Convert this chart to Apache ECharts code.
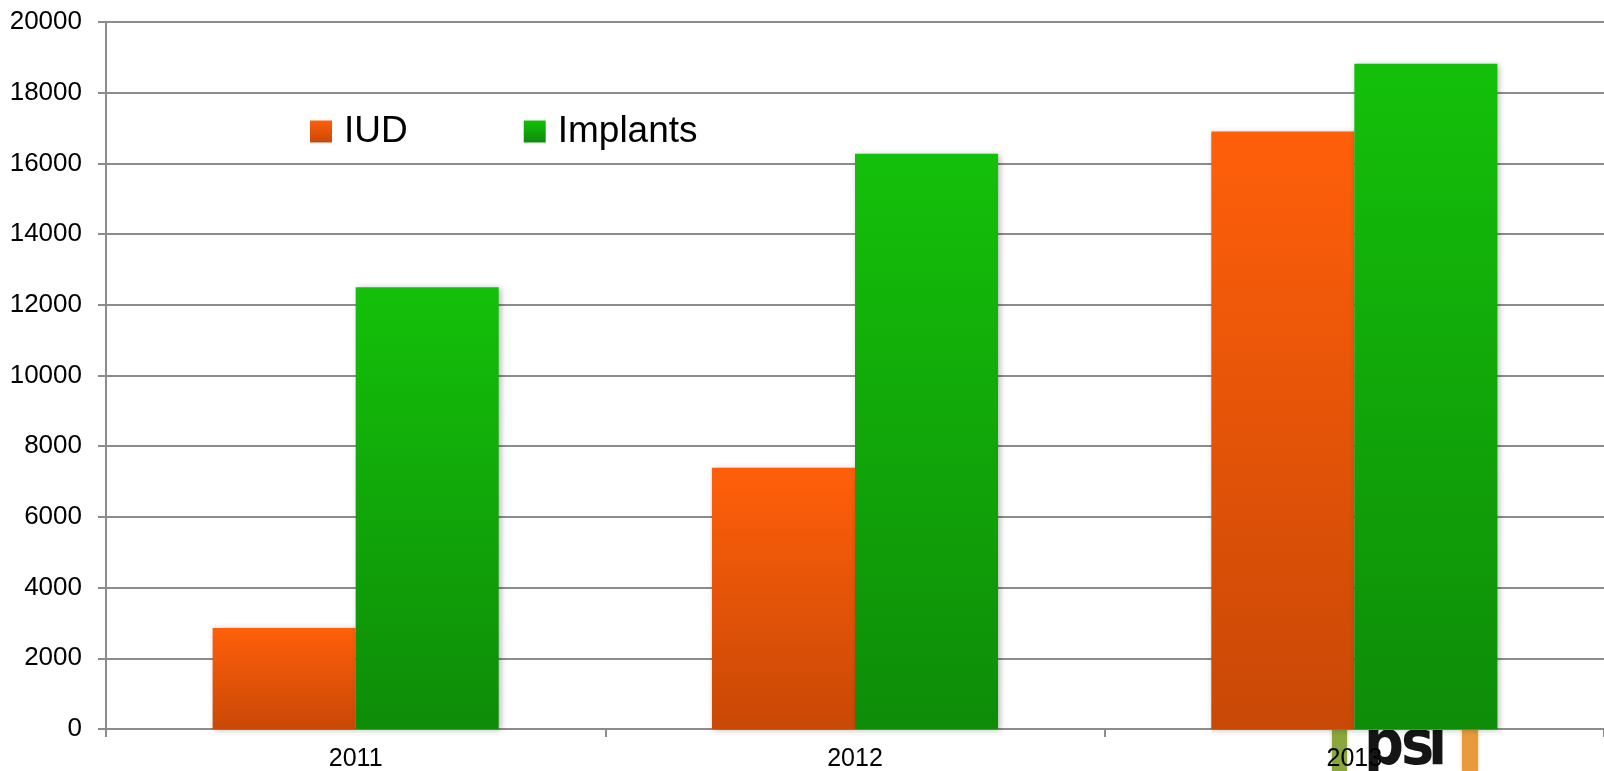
<!DOCTYPE html>
<html>
<head>
<meta charset="utf-8">
<script src="https://cdn.jsdelivr.net/npm/echarts@6/dist/echarts.min.js"></script>
<style>
  html, body { margin: 0; padding: 0; background: #fff; }
  #chart { width: 1604px; height: 771px; }
</style>
</head>
<body>
<div id="chart"></div>
<script>
// Yearly counts of long-acting methods
const years = ['2011', '2012', '2013'];
const iudValues = [2860, 7390, 16900];
const implantValues = [12500, 16270, 18820];
const yTicks = { min: 0, max: 20000, interval: 2000 };

const FONT = '"Liberation Sans", Arial, sans-serif';
const gridColor = '#8c8c8c';

function vGrad(top, bottom) {
  return new echarts.graphic.LinearGradient(0, 0, 0, 1, [
    { offset: 0, color: top },
    { offset: 1, color: bottom }
  ]);
}

const barShadow = {
  shadowBlur: 6,
  shadowColor: 'rgba(0,0,0,0.28)',
  shadowOffsetX: 2,
  shadowOffsetY: 1
};

const logoFont = 'bold 62px "DejaVu Sans Condensed", "DejaVu Sans", sans-serif';
function logoLetter(ch, x) {
  return {
    type: 'text', z: -10, x: x, y: 748,
    style: { text: ch, font: logoFont, fill: '#151515',
             textVerticalAlign: 'middle', shadowBlur: 2, shadowColor: 'rgba(0,0,0,0.4)' }
  };
}

const chart = echarts.init(document.getElementById('chart'), null, { renderer: 'canvas' });

chart.setOption({
  animation: false,
  backgroundColor: '#ffffff',
  textStyle: { fontFamily: FONT },
  grid: { left: 106, right: 0, top: 22, bottom: 42, containLabel: false, outerBoundsMode: 'none' },
  legend: {
    left: 310,
    top: 113,
    padding: 0,
    itemWidth: 22,
    itemHeight: 22,
    itemGap: 116,
    icon: 'rect',
    textStyle: { fontSize: 37, color: '#000', fontFamily: FONT, padding: [0, 0, 0, 7] },
    data: ['IUD', 'Implants']
  },
  xAxis: {
    type: 'category',
    data: years,
    axisLine: { lineStyle: { color: gridColor, width: 2 } },
    axisTick: { show: true, length: 8, lineStyle: { color: gridColor, width: 2 } },
    axisLabel: { fontSize: 25, color: '#000', margin: 18, fontFamily: FONT }
  },
  yAxis: {
    type: 'value',
    min: yTicks.min,
    max: yTicks.max,
    interval: yTicks.interval,
    axisLine: { show: true, lineStyle: { color: gridColor, width: 2 } },
    axisTick: { show: true, length: 8, inside: false, lineStyle: { color: gridColor, width: 2 } },
    axisLabel: { fontSize: 26, color: '#000', margin: 24, fontFamily: FONT,
                 formatter: v => String(v) },
    splitLine: { show: true, lineStyle: { color: gridColor, width: 2 } }
  },
  graphic: [
    // logo under the plot, its upper part hidden behind the chart area
    { type: 'rect', z: -10, shape: { x: 1332, y: 700, width: 15, height: 71 },
      style: { fill: '#8aa63c', shadowBlur: 3, shadowColor: 'rgba(138,166,60,0.6)' } },
    { type: 'rect', z: -10, shape: { x: 1462, y: 700, width: 16, height: 71 },
      style: { fill: '#e89a3c', shadowBlur: 3, shadowColor: 'rgba(232,154,60,0.6)' } },
    logoLetter('p', 1364),
    logoLetter('s', 1401),
    logoLetter('i', 1428),
    { type: 'rect', z: -5, shape: { x: 1300, y: 640, width: 200, height: 89 },
      style: { fill: '#fff' } }
  ],
  series: [
    {
      name: 'IUD',
      type: 'bar',
      data: iudValues,
      barGap: '0%',
      barCategoryGap: '42.7%',
      itemStyle: Object.assign({ color: vGrad('#ff5f0a', '#c94806') }, barShadow)
    },
    {
      name: 'Implants',
      type: 'bar',
      data: implantValues,
      itemStyle: Object.assign({ color: vGrad('#14c00a', '#0e8c08') }, barShadow)
    }
  ]
});
</script>
</body>
</html>
